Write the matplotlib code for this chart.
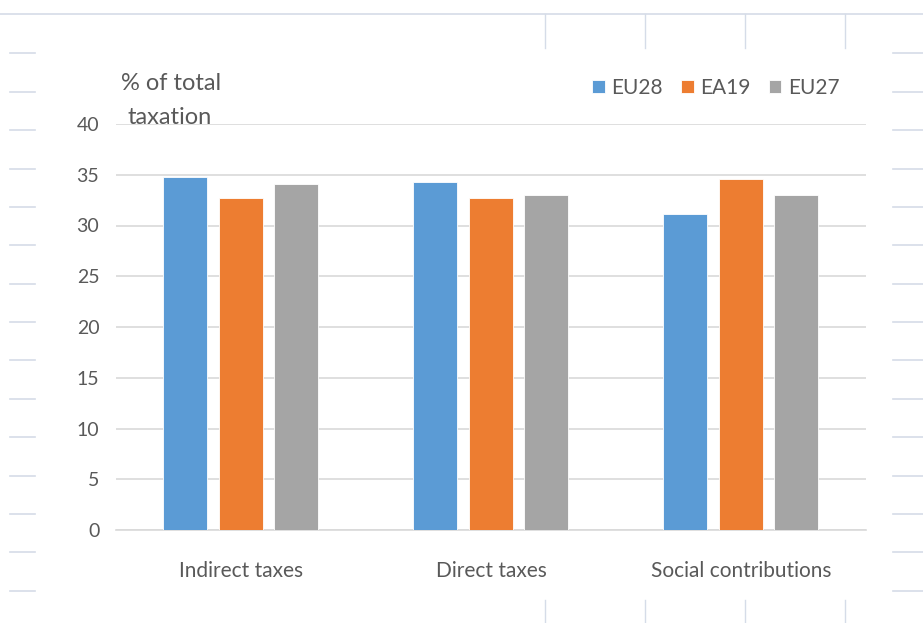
import numpy as np
import matplotlib.pyplot as plt
from matplotlib.lines import Line2D

plt.rcParams['font.family'] = ['Lato', 'DejaVu Sans']

categories = ["Indirect taxes", "Direct taxes", "Social contributions"]
series = ["EU28", "EA19", "EU27"]
eu28 = [34.8, 34.3, 31.1]
ea19 = [32.7, 32.7, 34.6]
eu27 = [34.1, 33.0, 33.0]
colors = ["#5B9BD5", "#ED7D31", "#A5A5A5"]
yticks = [0, 5, 10, 15, 20, 25, 30, 35, 40]

W, H = 923, 623
fig = plt.figure(figsize=(W / 100, H / 100), dpi=100)
fig.patch.set_facecolor("white")

# worksheet cell borders behind the chart object
grid_c = "#D5DCE8"
fig.add_artist(Line2D([0, 1], [1 - 14 / H, 1 - 14 / H], color=grid_c, lw=1.2))
for yy in [53, 92, 130, 169, 207, 245, 284, 322, 360, 399, 437, 476, 514, 552, 591]:
    fig.add_artist(Line2D([10 / W, 35 / W], [1 - yy / H] * 2, color=grid_c, lw=1.2))
    fig.add_artist(Line2D([893 / W, 1], [1 - yy / H] * 2, color=grid_c, lw=1.2))
for xx in [545, 645, 745, 845]:
    fig.add_artist(Line2D([xx / W] * 2, [1 - 14 / H, 1 - 48 / H], color=grid_c, lw=1.0))
    fig.add_artist(Line2D([xx / W] * 2, [1 - 600 / H, 0], color=grid_c, lw=1.0))

ax = fig.add_axes([116 / W, 1 - 530 / H, 750 / W, 406 / H])
ax.set_facecolor("white")

x = np.arange(len(categories))
bw = 0.176
step = 0.222
for i, (vals, name) in enumerate(zip([eu28, ea19, eu27], series)):
    ax.bar(x + (i - 1) * step, vals, width=bw, color=colors[i], label=name,
           zorder=3, edgecolor="white", linewidth=0.6)

ax.set_xlim(-0.5, 2.5)
ax.set_ylim(0, 40)
ax.set_yticks(yticks)
ax.set_yticklabels([str(t) for t in yticks], fontsize=14, color="#595959")
ax.set_xticks(x)
ax.set_xticklabels(categories, fontsize=15, color="#595959")
ax.tick_params(axis="both", length=0)
ax.tick_params(axis="y", pad=12)
ax.tick_params(axis="x", pad=22)
ax.grid(axis="y", color="#D9D9D9", lw=1.2, zorder=0)
for s in ["top", "right", "left"]:
    ax.spines[s].set_visible(False)
ax.spines["bottom"].set_color("#D9D9D9")
ax.spines["bottom"].set_linewidth(1.2)

fig.text(121 / W, 1 - 83 / H, "% of total", fontsize=17, color="#595959", va="center")
fig.text(127 / W, 1 - 117 / H, "taxation", fontsize=17, color="#595959", va="center")

leg = fig.legend(loc="center right", bbox_to_anchor=(858 / W, 1 - 88 / H), ncol=3,
                 frameon=False, fontsize=15, handlelength=0.6, handleheight=0.6,
                 handletextpad=0.3, columnspacing=0.9, labelcolor="#595959")

fig.savefig("out.png", dpi=100, facecolor="white")
